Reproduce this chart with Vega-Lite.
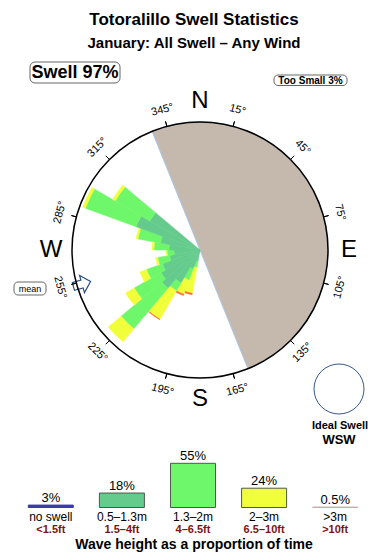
{
  "$schema": "https://vega.github.io/schema/vega-lite/v6.json",
  "width": 380,
  "height": 380,
  "autosize": {"type": "none"},
  "padding": {"left": 10, "top": 60, "right": 0, "bottom": 120},
  "background": "white",
  "config": {"view": {"stroke": null}, "font": "Liberation Sans"},
  "resolve": {"scale": {"stroke": "independent"}},
  "title": {
    "text": "Totoralillo Swell Statistics",
    "subtitle": "January: All Swell – Any Wind",
    "font": "Liberation Sans",
    "subtitleFont": "Liberation Sans",
    "fontSize": 17,
    "subtitleFontSize": 15,
    "fontWeight": "bold",
    "subtitleFontWeight": "bold",
    "color": "#000000",
    "subtitleColor": "#000000",
    "anchor": "middle",
    "frame": "group",
    "offset": 8,
    "dx": -6,
    "subtitlePadding": 7
  },
  "datasets": {
    "rose": [
      {"dir": 195, "cat": "0.5–1.3m", "pct": 0.19}, {"dir": 195, "cat": "1.3–2m", "pct": 0.24}, {"dir": 195, "cat": "2–3m", "pct": 2.16}, {"dir": 195, "cat": ">3m", "pct": 0.18},
      {"dir": 205, "cat": "0.5–1.3m", "pct": 0.54}, {"dir": 205, "cat": "1.3–2m", "pct": 0.84}, {"dir": 205, "cat": "2–3m", "pct": 1.59}, {"dir": 205, "cat": ">3m", "pct": 0.19},
      {"dir": 215, "cat": "0.5–1.3m", "pct": 1.94}, {"dir": 215, "cat": "1.3–2m", "pct": 1.03}, {"dir": 215, "cat": "2–3m", "pct": 5.62}, {"dir": 215, "cat": ">3m", "pct": 0.11},
      {"dir": 225, "cat": "0.5–1.3m", "pct": 3.35}, {"dir": 225, "cat": "1.3–2m", "pct": 10.88}, {"dir": 225, "cat": "2–3m", "pct": 5.08},
      {"dir": 235, "cat": "0.5–1.3m", "pct": 2.72}, {"dir": 235, "cat": "1.3–2m", "pct": 5.03}, {"dir": 235, "cat": "2–3m", "pct": 2.17},
      {"dir": 245, "cat": "0.5–1.3m", "pct": 2.15}, {"dir": 245, "cat": "1.3–2m", "pct": 2.21}, {"dir": 245, "cat": "2–3m", "pct": 1.14},
      {"dir": 255, "cat": "0.5–1.3m", "pct": 1.29}, {"dir": 255, "cat": "1.3–2m", "pct": 1.19}, {"dir": 255, "cat": "2–3m", "pct": 0.24},
      {"dir": 265, "cat": "0.5–1.3m", "pct": 0.91}, {"dir": 265, "cat": "1.3–2m", "pct": 0.55}, {"dir": 265, "cat": "2–3m", "pct": 0.09},
      {"dir": 275, "cat": "0.5–1.3m", "pct": 1.29}, {"dir": 275, "cat": "1.3–2m", "pct": 1.55}, {"dir": 275, "cat": "2–3m", "pct": 0.25},
      {"dir": 285, "cat": "0.5–1.3m", "pct": 2.15}, {"dir": 285, "cat": "1.3–2m", "pct": 3.18}, {"dir": 285, "cat": "2–3m", "pct": 0.34},
      {"dir": 295, "cat": "0.5–1.3m", "pct": 6.2}, {"dir": 295, "cat": "1.3–2m", "pct": 13.76}, {"dir": 295, "cat": "2–3m", "pct": 0.99},
      {"dir": 305, "cat": "0.5–1.3m", "pct": 4.51}, {"dir": 305, "cat": "1.3–2m", "pct": 8.37}, {"dir": 305, "cat": "2–3m", "pct": 0.8}
    ],
    "land": [{"from": -22, "to": 158}],
    "degs": [
      {"deg": 15, "label": "15°"}, {"deg": 45, "label": "45°"}, {"deg": 75, "label": "75°"},
      {"deg": 105, "label": "105°"}, {"deg": 135, "label": "135°"}, {"deg": 165, "label": "165°"},
      {"deg": 195, "label": "195°"}, {"deg": 225, "label": "225°"}, {"deg": 255, "label": "255°"},
      {"deg": 285, "label": "285°"}, {"deg": 315, "label": "315°"}, {"deg": 345, "label": "345°"}
    ],
    "compass": [
      {"dir": 0, "lab": "N"}, {"dir": 90, "lab": "E"}, {"dir": 180, "lab": "S"}, {"dir": 270, "lab": "W"}
    ],
    "legend": [
      {"cat": "no swell", "pct": 3, "pctlab": "3%", "ft": "<1.5ft"},
      {"cat": "0.5–1.3m", "pct": 18, "pctlab": "18%", "ft": "1.5–4ft"},
      {"cat": "1.3–2m", "pct": 55, "pctlab": "55%", "ft": "4–6.5ft"},
      {"cat": "2–3m", "pct": 24, "pctlab": "24%", "ft": "6.5–10ft"},
      {"cat": ">3m", "pct": 0.5, "pctlab": "0.5%", "ft": ">10ft"}
    ]
  },
  "layer": [
    {
      "data": {"name": "land"},
      "mark": {"type": "arc", "fill": "#c5b9ad", "stroke": "#a6c8e8", "strokeWidth": 1},
      "encoding": {
        "theta": {"field": "from", "type": "quantitative", "stack": null, "scale": {"domain": [0, 360], "range": [0, 6.283185307179586]}},
        "theta2": {"field": "to"},
        "radius": {"datum": 22, "type": "quantitative", "scale": {"type": "sqrt", "domain": [0, 22], "range": [0, 128]}}
      }
    },
    {
      "data": {"name": "rose"},
      "transform": [
        {"stack": "pct", "groupby": ["dir"], "sort": [{"field": "cat", "order": "ascending"}], "as": ["r0", "r1"]},
        {"bin": {"step": 10, "extent": [0, 360]}, "field": "dir", "as": ["a0", "a1"]}
      ],
      "mark": {"type": "arc", "strokeWidth": 0.5},
      "encoding": {
        "theta": {"field": "a0", "type": "quantitative", "stack": null, "scale": {"domain": [0, 360], "range": [0, 6.283185307179586]}},
        "theta2": {"field": "a1"},
        "radius": {"field": "r1", "type": "quantitative", "stack": null, "scale": {"type": "sqrt", "domain": [0, 22], "range": [0, 128]}},
        "radius2": {"field": "r0"},
        "color": {"field": "cat", "type": "nominal", "legend": null,
          "scale": {"domain": ["0.5–1.3m", "1.3–2m", "2–3m", ">3m"], "range": ["#64cb8c", "#6ff76b", "#f1ff3b", "#ff6a35"]}},
        "stroke": {"field": "cat", "type": "nominal", "legend": null,
          "scale": {"domain": ["0.5–1.3m", "1.3–2m", "2–3m", ">3m"], "range": ["#64cb8c", "#6ff76b", "#f1ff3b", "#ff6a35"]}}
      }
    },
    {
      "data": {"values": [{"t": "mean arrow"}]},
      "mark": {"type": "point", "x": 72, "y": 224, "size": 320, "angle": -16,
        "shape": "M-1,-0.45L0,-0.45L0,-1L1,0L0,1L0,0.45L-1,0.45Z",
        "filled": true, "fill": "white", "stroke": "#2d4f7f", "strokeWidth": 1.2, "opacity": 1},
      "encoding": {}
    },
    {
      "data": {"values": [{"a": 0, "b": 360}]},
      "mark": {"type": "arc", "filled": false, "stroke": "#000000", "strokeWidth": 1.5},
      "encoding": {
        "theta": {"field": "a", "type": "quantitative", "stack": null, "scale": {"domain": [0, 360], "range": [0, 6.283185307179586]}},
        "theta2": {"field": "b"},
        "radius": {"datum": 22, "type": "quantitative", "scale": {"type": "sqrt", "domain": [0, 22], "range": [0, 128]}}
      }
    },
    {
      "data": {"name": "degs"},
      "mark": {"type": "arc", "filled": false, "stroke": "#000000", "strokeWidth": 1},
      "encoding": {
        "theta": {"field": "deg", "type": "quantitative", "stack": null, "scale": {"domain": [0, 360], "range": [0, 6.283185307179586]}},
        "theta2": {"field": "deg"},
        "radius": {"datum": 23.8, "type": "quantitative", "scale": {"type": "sqrt", "domain": [0, 22], "range": [0, 128]}},
        "radius2": {"datum": 22}
      }
    },
    {
      "data": {"name": "degs"},
      "mark": {"type": "text", "fontSize": 11, "align": "center", "baseline": "middle", "color": "#000000"},
      "encoding": {
        "theta": {"field": "deg", "type": "quantitative", "stack": null, "scale": {"domain": [0, 360], "range": [0, 6.283185307179586]}},
        "radius": {"datum": 28.2, "type": "quantitative", "scale": {"type": "sqrt", "domain": [0, 22], "range": [0, 128]}},
        "text": {"field": "label"},
        "angle": {"field": "deg", "type": "ordinal", "legend": null,
          "scale": {"type": "ordinal", "domain": [15, 45, 75, 105, 135, 165, 195, 225, 255, 285, 315, 345], "range": [15, 45, 75, -75, -45, -15, 15, 45, 75, -75, -45, -15]}}
      }
    },
    {
      "data": {"name": "compass"},
      "mark": {"type": "text", "fontSize": 24, "align": "center", "baseline": "middle", "color": "#000000"},
      "encoding": {
        "theta": {"field": "dir", "type": "quantitative", "stack": null, "scale": {"domain": [0, 360], "range": [0, 6.283185307179586]}},
        "radius": {"datum": 29.8, "type": "quantitative", "scale": {"type": "sqrt", "domain": [0, 22], "range": [0, 128]}},
        "text": {"field": "lab"}
      }
    },
    {
      "data": {"values": [{"t": "Swell 97%"}]},
      "mark": {"type": "rect", "x": 20, "x2": 110, "y": 2, "y2": 23, "cornerRadius": 5, "fill": "white", "stroke": "#666666", "strokeWidth": 1},
      "encoding": {}
    },
    {
      "data": {"values": [{"t": "Swell 97%"}]},
      "mark": {"type": "text", "x": 65, "y": 13, "fontSize": 18, "fontWeight": "bold", "align": "center", "baseline": "middle", "color": "#000000"},
      "encoding": {"text": {"field": "t"}}
    },
    {
      "data": {"values": [{"t": "Too Small 3%"}]},
      "mark": {"type": "rect", "x": 264, "x2": 337, "y": 15, "y2": 25.5, "cornerRadius": 4, "fill": "white", "stroke": "#666666", "strokeWidth": 1},
      "encoding": {}
    },
    {
      "data": {"values": [{"t": "Too Small 3%"}]},
      "mark": {"type": "text", "x": 300.5, "y": 20.5, "fontSize": 10, "fontWeight": "bold", "align": "center", "baseline": "middle", "color": "#000000"},
      "encoding": {"text": {"field": "t"}}
    },
    {
      "data": {"values": [{"t": "mean"}]},
      "mark": {"type": "rect", "x": 4, "x2": 36, "y": 222, "y2": 235, "cornerRadius": 4, "fill": "white", "stroke": "#666666", "strokeWidth": 1},
      "encoding": {}
    },
    {
      "data": {"values": [{"t": "mean"}]},
      "mark": {"type": "text", "x": 20, "y": 228.5, "fontSize": 9, "align": "center", "baseline": "middle", "color": "#000000"},
      "encoding": {"text": {"field": "t"}}
    },
    {
      "data": {"values": [{"t": "Ideal Swell"}]},
      "mark": {"type": "point", "shape": "circle", "x": 329, "y": 329, "size": 2500, "filled": false, "stroke": "#35598a", "strokeWidth": 1, "opacity": 1},
      "encoding": {}
    },
    {
      "data": {"values": [{"t": "Ideal Swell"}]},
      "mark": {"type": "text", "x": 330, "y": 365.5, "fontSize": 11, "fontWeight": "bold", "align": "center", "baseline": "middle", "color": "#000000"},
      "encoding": {"text": {"field": "t"}}
    },
    {
      "data": {"values": [{"t": "WSW"}]},
      "mark": {"type": "text", "x": 329, "y": 380, "fontSize": 13, "fontWeight": "bold", "align": "center", "baseline": "middle", "color": "#000000"},
      "encoding": {"text": {"field": "t"}}
    },
    {
      "data": {"name": "legend"},
      "mark": {"type": "bar", "strokeWidth": 1},
      "encoding": {
        "x": {"field": "cat", "type": "nominal", "axis": null,
          "scale": {"domain": ["no swell", "0.5–1.3m", "1.3–2m", "2–3m", ">3m"], "range": [5.25, 360.75], "paddingInner": 0.367, "paddingOuter": 0.1835}},
        "y": {"field": "pct", "type": "quantitative", "axis": null, "scale": {"domain": [0, 55], "range": [447.5, 403.3]}},
        "fill": {"field": "cat", "type": "nominal", "legend": null,
          "scale": {"domain": ["no swell", "0.5–1.3m", "1.3–2m", "2–3m", ">3m"], "range": ["#3b3bb0", "#64cb8c", "#6ff76b", "#f1ff3b", "#c9aba3"]}},
        "stroke": {"field": "cat", "type": "nominal", "legend": null,
          "scale": {"domain": ["no swell", "0.5–1.3m", "1.3–2m", "2–3m", ">3m"], "range": ["#3b3bb0", "#4b5a4b", "#4b5a4b", "#4b5a4b", "#c9aba3"]}}
      }
    },
    {
      "data": {"name": "legend"},
      "mark": {"type": "text", "fontSize": 13, "align": "center", "baseline": "alphabetic", "dy": -3.5, "color": "#000000"},
      "encoding": {
        "x": {"field": "cat", "type": "nominal", "axis": null,
          "scale": {"domain": ["no swell", "0.5–1.3m", "1.3–2m", "2–3m", ">3m"], "range": [5.25, 360.75], "paddingInner": 0.367, "paddingOuter": 0.1835}},
        "y": {"field": "pct", "type": "quantitative", "axis": null, "scale": {"domain": [0, 55], "range": [447.5, 403.3]}},
        "text": {"field": "pctlab"}
      }
    },
    {
      "data": {"name": "legend"},
      "mark": {"type": "text", "fontSize": 12, "align": "center", "baseline": "alphabetic", "dy": 13.5, "color": "#000000"},
      "encoding": {
        "x": {"field": "cat", "type": "nominal", "axis": null,
          "scale": {"domain": ["no swell", "0.5–1.3m", "1.3–2m", "2–3m", ">3m"], "range": [5.25, 360.75], "paddingInner": 0.367, "paddingOuter": 0.1835}},
        "y": {"datum": 0, "type": "quantitative", "axis": null, "scale": {"domain": [0, 55], "range": [447.5, 403.3]}},
        "text": {"field": "cat"}
      }
    },
    {
      "data": {"name": "legend"},
      "mark": {"type": "text", "fontSize": 11, "fontWeight": "bold", "align": "center", "baseline": "alphabetic", "dy": 25.5, "color": "#7d1212"},
      "encoding": {
        "x": {"field": "cat", "type": "nominal", "axis": null,
          "scale": {"domain": ["no swell", "0.5–1.3m", "1.3–2m", "2–3m", ">3m"], "range": [5.25, 360.75], "paddingInner": 0.367, "paddingOuter": 0.1835}},
        "y": {"datum": 0, "type": "quantitative", "axis": null, "scale": {"domain": [0, 55], "range": [447.5, 403.3]}},
        "text": {"field": "ft"}
      }
    },
    {
      "data": {"values": [{"t": "Wave height as a proportion of time", "cat": "1.3–2m"}]},
      "mark": {"type": "text", "fontSize": 14, "fontWeight": "bold", "align": "center", "baseline": "alphabetic", "dy": 41, "dx": 1, "color": "#000000"},
      "encoding": {
        "x": {"field": "cat", "type": "nominal", "axis": null,
          "scale": {"domain": ["no swell", "0.5–1.3m", "1.3–2m", "2–3m", ">3m"], "range": [5.25, 360.75], "paddingInner": 0.367, "paddingOuter": 0.1835}},
        "y": {"datum": 0, "type": "quantitative", "axis": null, "scale": {"domain": [0, 55], "range": [447.5, 403.3]}},
        "text": {"field": "t"}
      }
    }
  ]
}
